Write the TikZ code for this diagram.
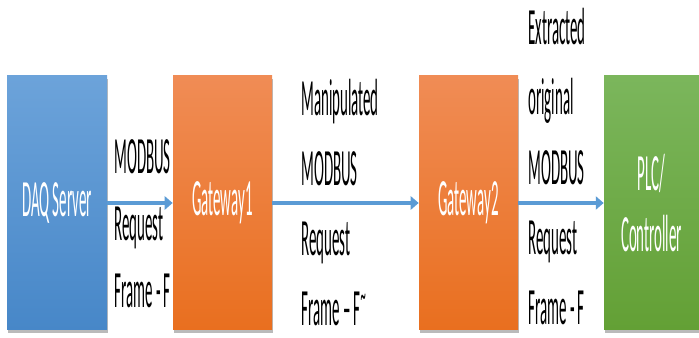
\documentclass[tikz,border=0pt]{standalone}
\usepackage{graphicx}
\usepackage{fontspec}
\setmainfont{Carlito}
\usetikzlibrary{arrows.meta,shadows}

\definecolor{daqtop}{HTML}{6CA3DA}
\definecolor{daqbot}{HTML}{4787C8}
\definecolor{gwtop}{HTML}{F08C55}
\definecolor{gwbot}{HTML}{E96F1F}
\definecolor{plctop}{HTML}{7BB65C}
\definecolor{plcbot}{HTML}{63A035}
\definecolor{linkblue}{HTML}{5B9BD5}

% condensed look of the original text
\newcommand{\tall}[1]{\scalebox{1}[3.5]{#1}}

\tikzset{
	box/.style={minimum width=2cm, minimum height=5.08cm, inner sep=0pt,
		text=white, align=center, font=\fontsize{8.5}{35}\selectfont,
		drop shadow={shadow xshift=0.6pt, shadow yshift=-1.6pt, fill=black!60, opacity=.45}},
	msg/.style={anchor=south west, inner sep=0pt, align=left,
		font=\fontsize{8.5}{39.8}\selectfont},
	link/.style={draw=linkblue, line width=2.3pt, -{Triangle[length=4.5pt,width=7.5pt]}}
}

\begin{document}
\begin{tikzpicture}
	
	\useasboundingbox (0,0) rectangle (13.98,6.76);
	
	\node [box, top color=daqtop, bottom color=daqbot] (daq) at (1.14,2.70) {\tall{DAQ Server}};
	
	\node [box, top color=gwtop, bottom color=gwbot, minimum width=1.98cm] (gw1) at (4.45,2.70) {\tall{Gateway1}};
	
	\node [box, top color=gwtop, bottom color=gwbot, minimum width=1.98cm] (gw2) at (9.37,2.70) {\tall{Gateway2}};
	
	\node [box, top color=plctop, bottom color=plcbot, minimum width=1.9cm] (plc) at (13.03,2.70) {\tall{PLC/}\\\tall{Controller}};
	
	
	\draw [link] (daq) -- (gw1);
	
	\draw [link] (gw1) -- (gw2);
	
	\draw [link] (gw2) -- (plc);
	
	
	\node [msg, font=\fontsize{8.5}{38.2}\selectfont] (req) at (2.28,0.60) {\tall{MODBUS}\\\tall{Request}\\\tall{Frame - F}};
	
	\node [msg] (manip) at (6.02,0.24) {\tall{Manipulated}\\\tall{MODBUS}\\\tall{Request}\\\tall{Frame – F\textsuperscript{\textasciitilde}}};
	
	\node [msg] (extr) at (10.56,0.26) {\tall{Extracted}\\\tall{original}\\\tall{MODBUS}\\\tall{Request}\\\tall{Frame - F}};
	
\end{tikzpicture}
\end{document}
